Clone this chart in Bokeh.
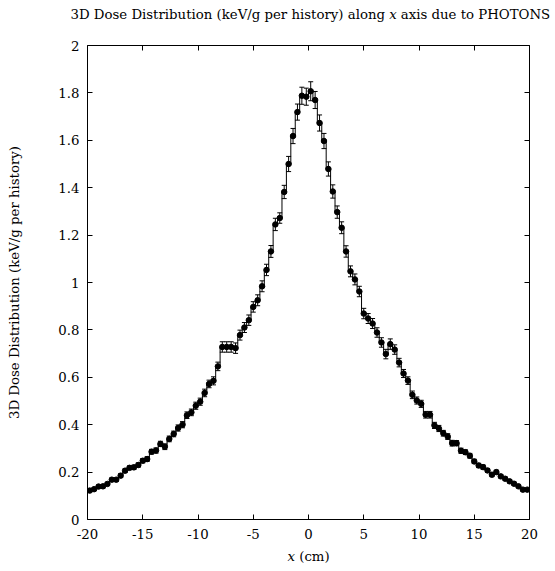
from bokeh.plotting import figure
from bokeh.models import ColumnDataSource, Whisker, TeeHead, LinearAxis, FixedTicker, Range1d, Label
from bokeh.embed import file_html
from bokeh.resources import INLINE

# ---- data ----
x_centers = [round(-19.8 + 0.4 * i, 1) for i in range(100)]
dose = [
    0.122, 0.128, 0.139, 0.140, 0.150, 0.168, 0.168, 0.185, 0.206, 0.218,
    0.220, 0.230, 0.248, 0.255, 0.286, 0.291, 0.319, 0.307, 0.340, 0.361,
    0.386, 0.400, 0.440, 0.452, 0.480, 0.497, 0.534, 0.572, 0.585, 0.646,
    0.728, 0.728, 0.728, 0.723, 0.778, 0.810, 0.841, 0.897, 0.925, 0.984,
    1.053, 1.131, 1.245, 1.272, 1.382, 1.500, 1.618, 1.719, 1.788, 1.784,
    1.807, 1.770, 1.673, 1.597, 1.479, 1.384, 1.297, 1.231, 1.131, 1.047,
    1.013, 0.962, 0.869, 0.848, 0.827, 0.789, 0.747, 0.698, 0.740, 0.717,
    0.662, 0.616, 0.586, 0.526, 0.502, 0.488, 0.442, 0.442, 0.397, 0.384,
    0.364, 0.350, 0.322, 0.322, 0.290, 0.284, 0.269, 0.245, 0.228, 0.221,
    0.207, 0.189, 0.200, 0.182, 0.172, 0.161, 0.151, 0.140, 0.126, 0.126,
]
dose_err = [
    0.006, 0.006, 0.006, 0.007, 0.007, 0.007, 0.007, 0.008, 0.008, 0.008,
    0.009, 0.009, 0.009, 0.010, 0.010, 0.011, 0.011, 0.012, 0.012, 0.012,
    0.013, 0.013, 0.014, 0.014, 0.015, 0.015, 0.016, 0.016, 0.017, 0.018,
    0.022, 0.022, 0.022, 0.022, 0.021, 0.021, 0.022, 0.022, 0.023, 0.023,
    0.024, 0.025, 0.026, 0.022, 0.028, 0.032, 0.032, 0.034, 0.036, 0.036,
    0.040, 0.036, 0.034, 0.032, 0.030, 0.028, 0.026, 0.025, 0.024, 0.023,
    0.023, 0.022, 0.022, 0.021, 0.021, 0.020, 0.020, 0.020, 0.022, 0.020,
    0.018, 0.017, 0.016, 0.016, 0.015, 0.015, 0.014, 0.014, 0.013, 0.013,
    0.012, 0.012, 0.012, 0.011, 0.011, 0.010, 0.010, 0.009, 0.009, 0.009,
    0.008, 0.008, 0.008, 0.007, 0.007, 0.007, 0.007, 0.006, 0.006, 0.006,
]
bin_width = 0.4
x_ticks = [-20, -15, -10, -5, 0, 5, 10, 15, 20]
x_tick_labels = ["-20", "-15", "-10", "-5", "0", "5", "10", "15", "20"]
y_ticks = [0, 0.2, 0.4, 0.6, 0.8, 1, 1.2, 1.4, 1.6, 1.8, 2]
y_tick_labels = ["0", "0.2", "0.4", "0.6", "0.8", "1", "1.2", "1.4", "1.6", "1.8", "2"]
title_parts = ["3D Dose Distribution (keV/g per history) along", "x", "axis due to PHOTONS"]
x_label_parts = ["x", "(cm)"]
y_label = "3D Dose Distribution (keV/g per history)"

FONT = "DejaVu Serif"
FS = "13.3px"

p = figure(width=555, height=571, output_backend="svg", toolbar_location=None,
           x_range=Range1d(-20, 20), y_range=Range1d(0, 2),
           min_border_left=87, min_border_right=26, min_border_top=44, min_border_bottom=51)
p.grid.visible = False
p.outline_line_color = "black"
p.outline_line_width = 1
p.background_fill_color = "white"
p.border_fill_color = "white"

def style_axis(ax, show_labels=True):
    ax.axis_line_color = None
    ax.major_tick_in = 5
    ax.major_tick_out = 0
    ax.major_tick_line_color = "black"
    ax.minor_tick_line_color = None
    ax.major_label_text_font = FONT
    ax.major_label_text_font_size = FS
    ax.major_label_text_color = "black" if show_labels else None
    ax.major_label_standoff = 8

style_axis(p.xaxis[0])
p.xaxis[0].ticker = FixedTicker(ticks=x_ticks)
p.xaxis[0].major_label_overrides = dict(zip(x_ticks, x_tick_labels))
p.xaxis[0].major_label_standoff = 9

style_axis(p.yaxis[0])
p.yaxis[0].ticker = FixedTicker(ticks=y_ticks)
p.yaxis[0].major_label_overrides = dict(zip(y_ticks, y_tick_labels))
p.yaxis[0].axis_label = y_label
p.yaxis[0].axis_label_text_font = FONT
p.yaxis[0].axis_label_text_font_size = FS
p.yaxis[0].axis_label_text_font_style = "normal"
p.yaxis[0].axis_label_text_color = "black"
p.yaxis[0].axis_label_standoff = 33

top = LinearAxis(ticker=FixedTicker(ticks=x_ticks))
style_axis(top, show_labels=False)
top.major_label_text_font_size = "0px"
top.major_label_standoff = 0
p.add_layout(top, "above")
right = LinearAxis(ticker=FixedTicker(ticks=y_ticks))
style_axis(right, show_labels=False)
right.major_label_text_font_size = "0px"
right.major_label_standoff = 0
p.add_layout(right, "right")

# step line (histogram steps over bin edges)
edges = [c - bin_width / 2 for c in x_centers] + [x_centers[-1] + bin_width / 2]
step_y = dose + [dose[-1]]
p.step(edges, step_y, mode="after", line_color="black", line_width=1)

src = ColumnDataSource(dict(
    x=x_centers, y=dose,
    lo=[d - e for d, e in zip(dose, dose_err)],
    hi=[d + e for d, e in zip(dose, dose_err)],
))
w = Whisker(source=src, base="x", lower="lo", upper="hi", line_color="black", line_width=1,
            lower_head=TeeHead(size=5, line_color="black", line_width=1),
            upper_head=TeeHead(size=5, line_color="black", line_width=1))
p.add_layout(w)
p.scatter("x", "y", source=src, size=5.5, marker="circle", fill_color="black", line_color="black")

def lab(x, y, text, align, italic=False):
    return Label(x=x, y=y, text=text, text_font=FONT, text_font_size=FS,
                 text_font_style="italic" if italic else "normal",
                 text_align=align, text_baseline="middle", text_color="black")

# title with italic x (pieces), placed in side panels so they are not clipped
ty = 2.132
p.add_layout(lab(6.92, ty, title_parts[0], "right"), "above")
p.add_layout(lab(7.64, ty, title_parts[1], "center", italic=True), "above")
p.add_layout(lab(8.35, ty, title_parts[2], "left"), "above")

# x axis label with italic x
ly = -0.155
p.add_layout(lab(-1.57, ly, x_label_parts[0], "center", italic=True), "below")
p.add_layout(lab(-0.84, ly, x_label_parts[1], "left"), "below")

open("out.html", "w").write(file_html(p, INLINE))
